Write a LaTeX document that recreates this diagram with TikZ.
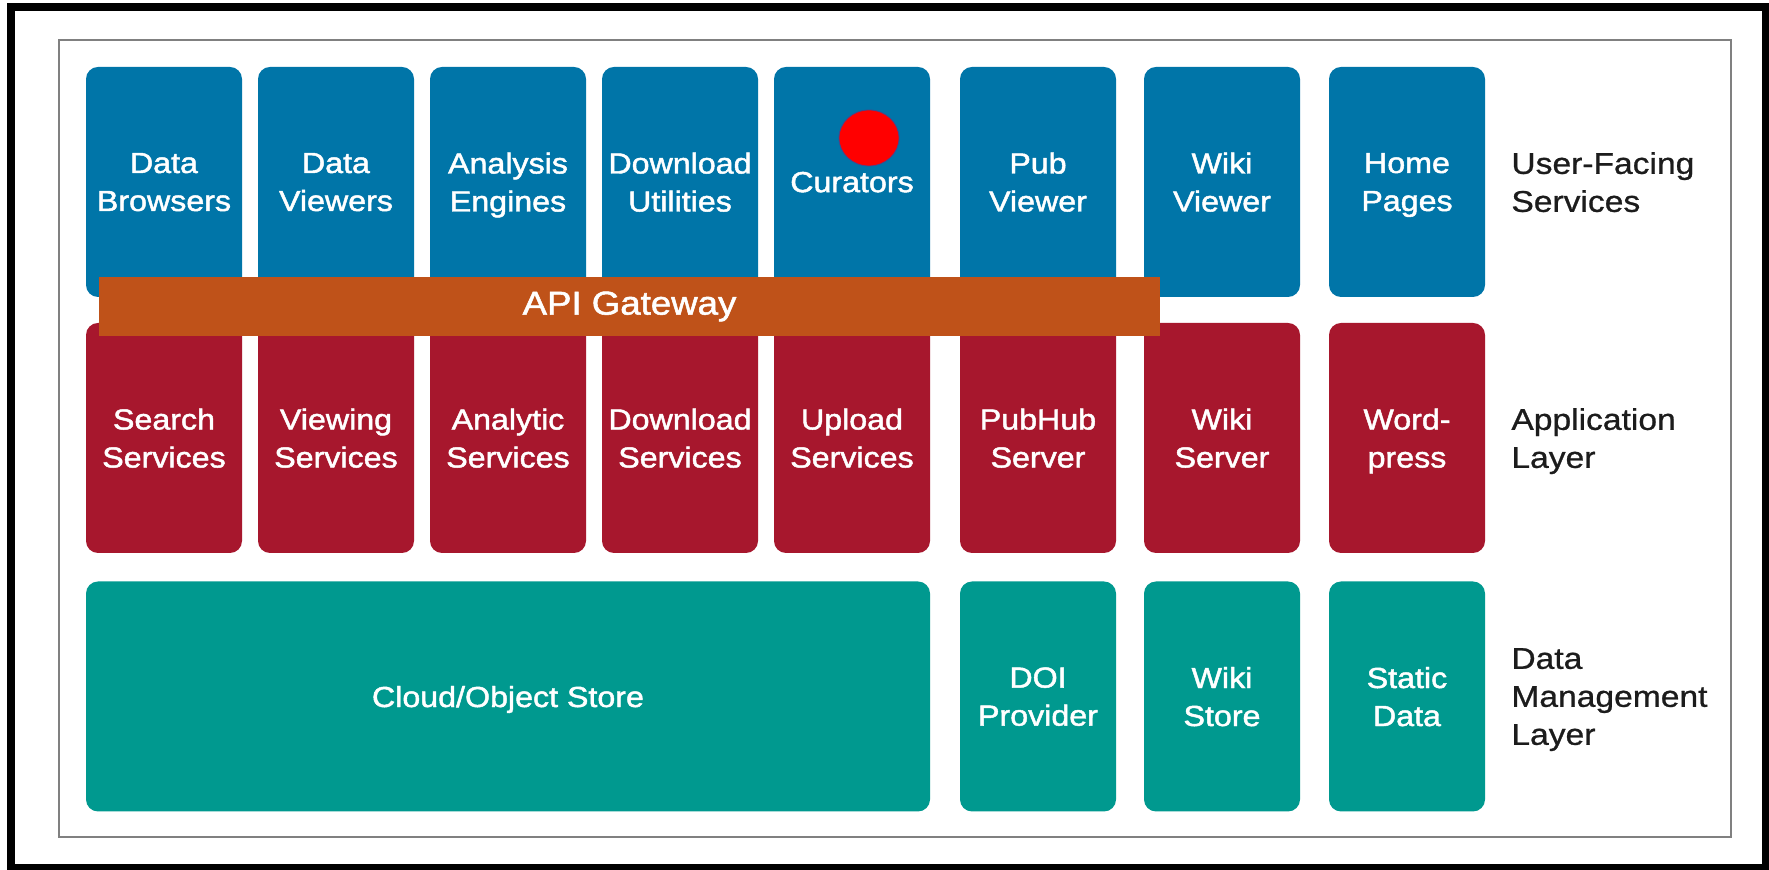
\documentclass[tikz,border=0pt]{standalone}
\usepackage{fontspec}
\usetikzlibrary{shapes.geometric}
\setmainfont{Liberation Sans}[FakeStretch=1.12]
\newfontfamily\tilefont{Liberation Sans}[FakeStretch=1.11,FakeBold=1.6]
\newfontfamily\labelfont{Liberation Sans}[FakeStretch=1.12,FakeBold=0.8]
\definecolor{ublue}{HTML}{0075A8}
\definecolor{ured}{HTML}{A7172D}
\definecolor{uteal}{HTML}{00998F}
\definecolor{uorange}{HTML}{BF5219}
\definecolor{ugray}{HTML}{808080}
\definecolor{utext}{HTML}{1C1C1C}
\definecolor{dotedge}{HTML}{46468C}
\begin{document}
\begin{tikzpicture}[x=0.5pt,y=-0.5pt,
  tile/.style={rounded corners=6pt, inner sep=0pt, minimum width=78pt, minimum height=115pt,
     text=white, align=center, text depth=0pt, font=\tilefont\fontsize{14.5}{19}\selectfont},
  bluetile/.style={tile, fill=ublue},
  redtile/.style={tile, fill=ured},
  tealtile/.style={tile, fill=uteal},
  layerlabel/.style={anchor=west, inner sep=0pt, align=left, text depth=0pt, text=utext,
     font=\labelfont\fontsize{15}{19}\selectfont},
  gateway/.style={fill=uorange, inner sep=0pt, minimum width=530.5pt, minimum height=29.5pt,
     text=white, font=\tilefont\fontsize{16.5}{19}\selectfont},
  dot/.style={ellipse, fill=red, draw=dotedge, line width=0.4pt, inner sep=0pt,
     minimum width=30pt, minimum height=28pt}
]
\useasboundingbox (0,0) rectangle (1769,870);
\fill[white] (0,0) rectangle (1769,870);
% outer black frame
\draw[line width=4pt] (11,7) rectangle (1766,868);
% inner grey frame
\draw[ugray, line width=1pt] (59,40) rectangle (1731,837);

% user-facing row
\node[bluetile] (browsers) at (164,182) {Data\\Browsers};
\node[bluetile] (dviewers) at (336,182) {Data\\Viewers};
\node[bluetile] (engines) at (508,182) {Analysis\\Engines};
\node[bluetile] (dlutil) at (680,182) {Download\\Utilities};
\node[bluetile] (curators) at (852,182) {Curators};
\node[bluetile] (pubviewer) at (1038,182) {Pub\\Viewer};
\node[bluetile] (wikiviewer) at (1222,182) {Wiki\\Viewer};
\node[bluetile] (homepages) at (1407,182) {Home\\Pages};

% application row
\node[redtile] (search) at (164,438) {Search\\Services};
\node[redtile] (viewing) at (336,438) {Viewing\\Services};
\node[redtile] (analytic) at (508,438) {Analytic\\Services};
\node[redtile] (download) at (680,438) {Download\\Services};
\node[redtile] (upload) at (852,438) {Upload\\Services};
\node[redtile] (pubhub) at (1038,438) {PubHub\\Server};
\node[redtile] (wikiserver) at (1222,438) {Wiki\\Server};
\node[redtile] (wordpress) at (1407,438) {Word-\\press};

% data management row
\node[tealtile, minimum width=422pt] (cloud) at (508,696.5) {Cloud/Object Store};
\node[tealtile] (doi) at (1038,696.5) {DOI\\Provider};
\node[tealtile] (wikistore) at (1222,696.5) {Wiki\\Store};
\node[tealtile] (static) at (1407,696.5) {Static\\Data};

% API gateway
\node[gateway] (api) at (629.5,306.5) {API Gateway};

% red marker
\node[dot] (marker) at (869,138) {};

% layer labels
\node[layerlabel] (lbluser) at (1511,182) {User-Facing\\Services};
\node[layerlabel] (lblapp) at (1511,438) {Application\\Layer};
\node[layerlabel] (lbldata) at (1511,696.5) {Data\\Management\\Layer};
\end{tikzpicture}
\end{document}
